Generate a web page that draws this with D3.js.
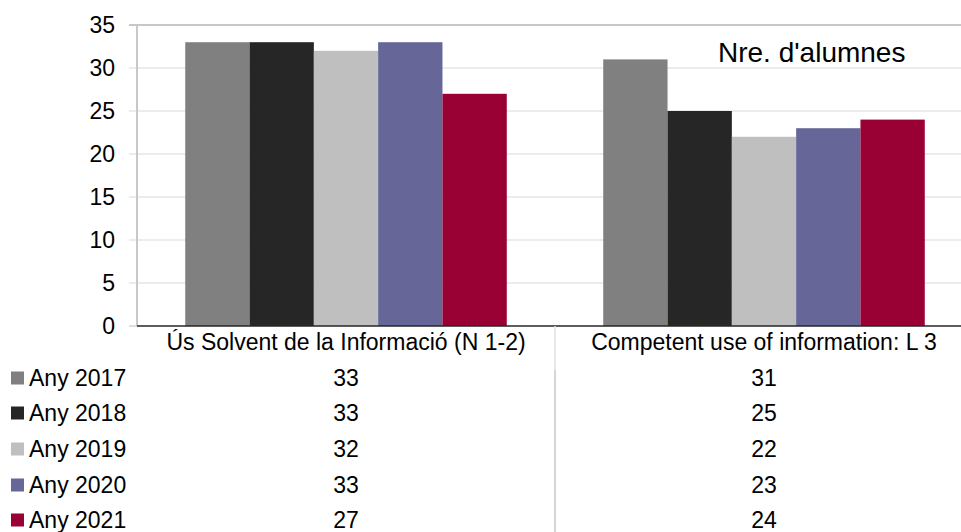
<!DOCTYPE html>
<html>
<head>
<meta charset="utf-8">
<script src="https://cdn.jsdelivr.net/npm/d3@7"></script>
<style>
  body { margin: 0; background: #fff; }
  text { font-family: "Liberation Sans", Arial, sans-serif; fill: #000; }
</style>
</head>
<body>
<script>
var categories = ["Ús Solvent de la Informació (N 1-2)", "Competent use of information: L 3"];
var series = ["Any 2017", "Any 2018", "Any 2019", "Any 2020", "Any 2021"];
var colors = ["#808080", "#262626", "#bfbfbf", "#666699", "#990033"];
var values = [
    [33, 31],
    [33, 25],
    [32, 22],
    [33, 23],
    [27, 24]
];
var yTicks = [0, 5, 10, 15, 20, 25, 30, 35];
var title = "Nre. d'alumnes";

var width = 961, height = 532;
var plot = {left: 137, right: 973, top: 25, bottom: 326};
var fs = "23px";

var svg = d3.select("body").append("svg")
    .attr("width", width)
    .attr("height", height);

var x0 = d3.scaleBand()
    .domain(categories)
    .range([plot.left, plot.right]);

// gap width ~150% of a bar
var x1 = d3.scaleBand()
    .domain(series)
    .range([0, x0.bandwidth()])
    .paddingOuter(0.75)
    .paddingInner(0);

var y = d3.scaleLinear()
    .domain([0, 35])
    .range([plot.bottom, plot.top]);

//gridlines
svg.append("g").selectAll("line")
    .data(yTicks.filter(function (d) { return d > 0; }))
    .enter()
    .append("line")
    .attr("x1", plot.left - 8)
    .attr("x2", width)
    .attr("y1", function (d) { return y(d); })
    .attr("y2", function (d) { return y(d); })
    .attr("stroke", function (d) { return d === 35 ? "#c8c8c8" : "#d9d9d9"; })
    .attr("stroke-width", function (d) { return d === 35 ? 2 : 1.2; });

//y tick labels
svg.append("g").selectAll("text")
    .data(yTicks)
    .enter()
    .append("text")
    .attr("x", 115)
    .attr("y", function (d) { return y(d); })
    .attr("dy", "0.35em")
    .attr("text-anchor", "end")
    .style("font-size", fs)
    .text(function (d) { return d; });

//left axis
svg.append("line")
    .attr("x1", plot.left).attr("x2", plot.left)
    .attr("y1", plot.top).attr("y2", plot.bottom)
    .attr("stroke", "#c8c8c8")
    .attr("stroke-width", 2);

//bars
var groups = svg.append("g").selectAll("g")
    .data(series)
    .enter()
    .append("g")
    .attr("fill", function (d, i) { return colors[i]; });

groups.selectAll("rect")
    .data(function (s, i) {
        return categories.map(function (c, j) { return {s: s, c: c, v: values[i][j]}; });
    })
    .enter()
    .append("rect")
    .attr("x", function (d) { return x0(d.c) + x1(d.s); })
    .attr("y", function (d) { return y(d.v); })
    .attr("width", x1.bandwidth())
    .attr("height", function (d) { return y(0) - y(d.v); });

//zero tick + axis line
svg.append("line")
    .attr("x1", plot.left - 8).attr("x2", plot.left)
    .attr("y1", y(0)).attr("y2", y(0))
    .attr("stroke", "#c8c8c8")
    .attr("stroke-width", 1.2);
svg.append("line")
    .attr("x1", plot.left).attr("x2", width)
    .attr("y1", y(0)).attr("y2", y(0))
    .attr("stroke", "#262626")
    .attr("stroke-width", 1.5);

//title
svg.append("text")
    .attr("x", 718)
    .attr("y", 52)
    .attr("dy", "0.35em")
    .style("font-size", "28px")
    .text(title);

//data table
var rowY = [342, 378, 413, 449, 485, 520];

svg.append("line")
    .attr("x1", x0(categories[1])).attr("x2", x0(categories[1]))
    .attr("y1", y(0)).attr("y2", 370)
    .attr("stroke", "#e0e0e0").attr("stroke-width", 1.5);
svg.append("line")
    .attr("x1", x0(categories[1])).attr("x2", x0(categories[1]))
    .attr("y1", 370).attr("y2", height)
    .attr("stroke", "#c8c8c8").attr("stroke-width", 1.5);

svg.append("g").selectAll("text")
    .data(categories)
    .enter()
    .append("text")
    .attr("x", function (d) { return x0(d) + x0.bandwidth() / 2; })
    .attr("y", rowY[0])
    .attr("dy", "0.35em")
    .attr("text-anchor", "middle")
    .style("font-size", fs)
    .text(function (d) { return d; });

var rows = svg.append("g").selectAll("g")
    .data(series)
    .enter()
    .append("g")
    .attr("transform", function (d, i) { return "translate(0," + rowY[i + 1] + ")"; });

rows.append("rect")
    .attr("x", 11)
    .attr("y", -6.5)
    .attr("width", 13)
    .attr("height", 13)
    .attr("fill", function (d, i) { return colors[i]; });

rows.append("text")
    .attr("x", 29)
    .attr("dy", "0.35em")
    .style("font-size", fs)
    .text(function (d) { return d; });

rows.selectAll("text.val")
    .data(function (s, i) { return values[i]; })
    .enter()
    .append("text")
    .attr("class", "val")
    .attr("x", function (d, j) { return x0(categories[j]) + x0.bandwidth() / 2; })
    .attr("dy", "0.35em")
    .attr("text-anchor", "middle")
    .style("font-size", fs)
    .text(function (d) { return d; });
</script>
</body>
</html>
